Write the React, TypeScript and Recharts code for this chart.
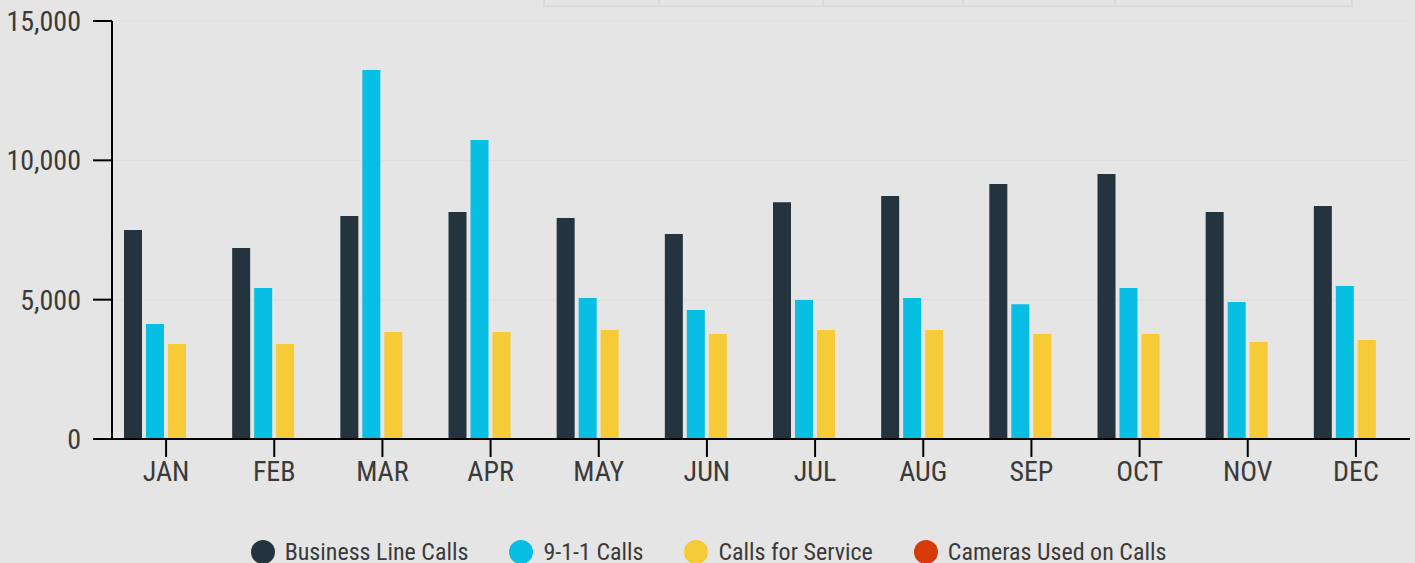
import React from "react";
import { BarChart, Bar, XAxis, YAxis, CartesianGrid, Legend } from "recharts";

const months = ["JAN", "FEB", "MAR", "APR", "MAY", "JUN", "JUL", "AUG", "SEP", "OCT", "NOV", "DEC"];
const businessLineCalls = [7500, 6850, 8000, 8150, 7930, 7360, 8500, 8720, 9150, 9510, 8150, 8360];
const nineOneOneCalls = [4130, 5420, 13240, 10730, 5060, 4630, 4990, 5060, 4840, 5420, 4920, 5490];
const callsForService = [3410, 3410, 3840, 3840, 3910, 3770, 3910, 3910, 3770, 3770, 3480, 3550];
const camerasUsedOnCalls = [0, 0, 0, 0, 0, 0, 0, 0, 0, 0, 0, 0];
const yTicks = [0, 5000, 10000, 15000];

const seriesNames = ["Business Line Calls", "9-1-1 Calls", "Calls for Service", "Cameras Used on Calls"];
const seriesColors = ["#23343f", "#07bee3", "#f7ca37", "#d83a0a"];

const data = months.map((m, i) => ({
  month: m,
  business: businessLineCalls[i],
  nine: nineOneOneCalls[i],
  cfs: callsForService[i],
  cameras: camerasUsedOnCalls[i],
}));

const FONT = "'Roboto Condensed', 'Liberation Sans Narrow', 'DejaVu Sans Condensed', 'Arial Narrow', Roboto, sans-serif";
const TEXT = "#3a3a3a";

const renderLegend = () => (
  <div style={{ display: "flex", justifyContent: "center", alignItems: "center", fontFamily: FONT, fontSize: 24, color: TEXT }}>
    {seriesNames.map((n, i) => (
      <div key={n} style={{ display: "flex", alignItems: "center", marginRight: i < seriesNames.length - 1 ? 41 : 0 }}>
        <span style={{ display: "inline-block", width: 24, height: 24, borderRadius: 12, background: seriesColors[i], marginRight: 10 }} />
        <span style={{ whiteSpace: "nowrap", lineHeight: "28px" }}>{n}</span>
      </div>
    ))}
  </div>
);

const boxLine = "#dadada";

export default function App() {
  return (
    <div style={{ position: "absolute", left: 0, top: 0, width: 1415, height: 563, background: "#e5e5e5", overflow: "hidden" }}>
      <div style={{ position: "absolute", left: 543, top: -10, width: 810, height: 17, border: `2px solid ${boxLine}`, boxSizing: "border-box" }} />
      {[658, 822, 962, 1114].map((x) => (
        <div key={x} style={{ position: "absolute", left: x, top: 0, width: 2, height: 6, background: boxLine }} />
      ))}
      <BarChart
        width={1415}
        height={563}
        data={data}
        margin={{ top: 21, right: 5, left: 0, bottom: 64 }}
        barSize={18}
        barGap={4}
        style={{ position: "absolute", left: 0, top: 0 }}
      >
        <CartesianGrid vertical={false} stroke="#dedede" strokeWidth={1} />
        <XAxis
          dataKey="month"
          height={60}
          tickSize={18}
          tickMargin={4}
          axisLine={{ stroke: "#000", strokeWidth: 2 }}
          tickLine={{ stroke: "#000", strokeWidth: 2 }}
          tick={{ fill: TEXT, fontSize: 28, fontFamily: FONT }}
          interval={0}
        />
        <YAxis
          width={112}
          domain={[0, 15000]}
          ticks={yTicks}
          tickSize={19}
          tickMargin={12}
          axisLine={{ stroke: "#000", strokeWidth: 2 }}
          tickLine={{ stroke: "#000", strokeWidth: 2 }}
          tick={{ fill: TEXT, fontSize: 28, fontFamily: FONT }}
          tickFormatter={(v: number) => v.toLocaleString("en-US")}
          interval={0}
        />
        <Legend
          layout="horizontal"
          verticalAlign="middle"
          align="center"
          content={renderLegend}
          wrapperStyle={{ top: 538, left: 1, width: 1415 }}
        />
        <Bar dataKey="business" name={seriesNames[0]} fill={seriesColors[0]} isAnimationActive={false} />
        <Bar dataKey="nine" name={seriesNames[1]} fill={seriesColors[1]} isAnimationActive={false} />
        <Bar dataKey="cfs" name={seriesNames[2]} fill={seriesColors[2]} isAnimationActive={false} />
        <Bar dataKey="cameras" name={seriesNames[3]} fill={seriesColors[3]} isAnimationActive={false} />
      </BarChart>
    </div>
  );
}
